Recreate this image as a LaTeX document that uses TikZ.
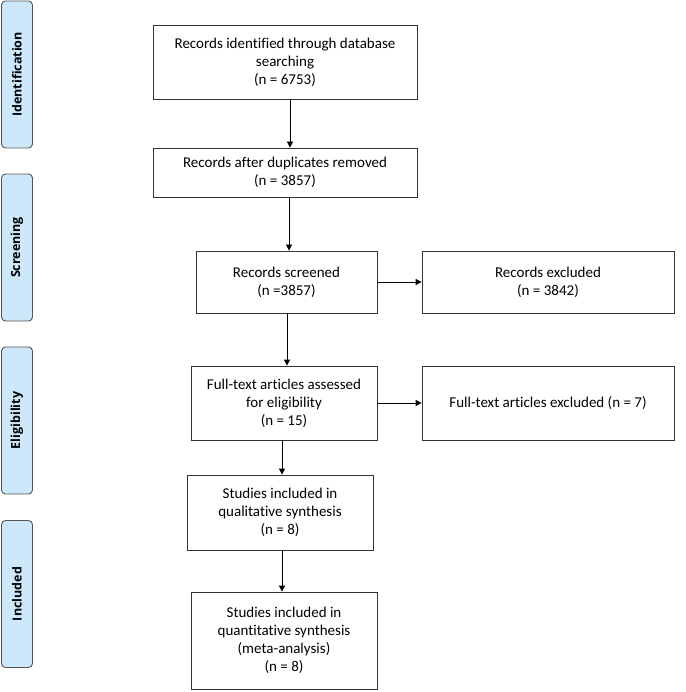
\documentclass[tikz,border=0pt]{standalone}
\usepackage{fontspec}
\setmainfont{Carlito}[Ligatures=NoCommon]
\newfontfamily\phasefont{Open Sans}
\usetikzlibrary{arrows.meta}
\definecolor{phasefill}{HTML}{CDE8FA}
\definecolor{phaseedge}{HTML}{555555}
\tikzset{
  flowbox/.style={draw=black!80, line width=0.8pt, fill=white, align=center, inner sep=0pt,
    font=\fontsize{15}{18}\selectfont},
  phasebox/.style={draw=phaseedge, line width=0.9pt, fill=phasefill, rounded corners=4pt,
    rotate=90, minimum width=147pt, minimum height=31pt, inner sep=0pt,
    font=\phasefont\bfseries\fontsize{12.5}{14}\selectfont},
  arr/.style={draw=black, line width=0.8pt, -{Triangle[length=6pt,width=6pt]}}
}
\begin{document}
\begin{tikzpicture}[x=1pt,y=-1pt]
\useasboundingbox (0,0) rectangle (685,692);
% phase labels
\node[phasebox] (p1) at (17,74.5) {Identification};
\node[phasebox] (p2) at (17,247.5) {Screening};
\node[phasebox] (p3) at (17,420.5) {Eligibility};
\node[phasebox] (p4) at (17,594) {Included};
% boxes
\node[flowbox, minimum width=264pt, minimum height=74pt] (b1) at (285,62)
  {Records identified through database\\searching\\(n = 6753)};
\node[flowbox, minimum width=264pt, minimum height=49pt] (b2) at (285,172.5)
  {Records after duplicates removed\\(n = 3857)};
\node[flowbox, minimum width=181pt, minimum height=62pt] (b3) at (286.5,282)
  {Records screened\\(n =3857)};
\node[flowbox, minimum width=252pt, minimum height=62pt] (b4) at (548,282)
  {Records excluded\\(n = 3842)};
\node[flowbox, minimum width=186pt, minimum height=74pt] (b5) at (284,403)
  {Full-text articles assessed\\for eligibility\\(n = 15)};
\node[flowbox, minimum width=252pt, minimum height=74pt] (b6) at (548,403)
  {Full-text articles excluded (n = 7)};
\node[flowbox, minimum width=186pt, minimum height=75pt] (b7) at (280,512.5)
  {Studies included in\\qualitative synthesis\\(n = 8)};
\node[flowbox, minimum width=186pt, minimum height=97pt] (b8) at (284,640.5)
  {Studies included in\\quantitative synthesis\\(meta-analysis)\\(n = 8)};
% connectors
\draw[arr] ([xshift=5pt]b1.south) -- ([xshift=5pt]b2.north);
\draw[arr] ([xshift=4pt]b2.south) -- ([xshift=2.5pt]b3.north);
\draw[arr] (b3.east) -- (b4.west);
\draw[arr] ([xshift=0.5pt]b3.south) -- ([xshift=3pt]b5.north);
\draw[arr] (b5.east) -- (b6.west);
\draw[arr] ([xshift=-2pt]b5.south) -- ([xshift=2pt]b7.north);
\draw[arr] ([xshift=2pt]b7.south) -- ([xshift=-2pt]b8.north);
\end{tikzpicture}
\end{document}
